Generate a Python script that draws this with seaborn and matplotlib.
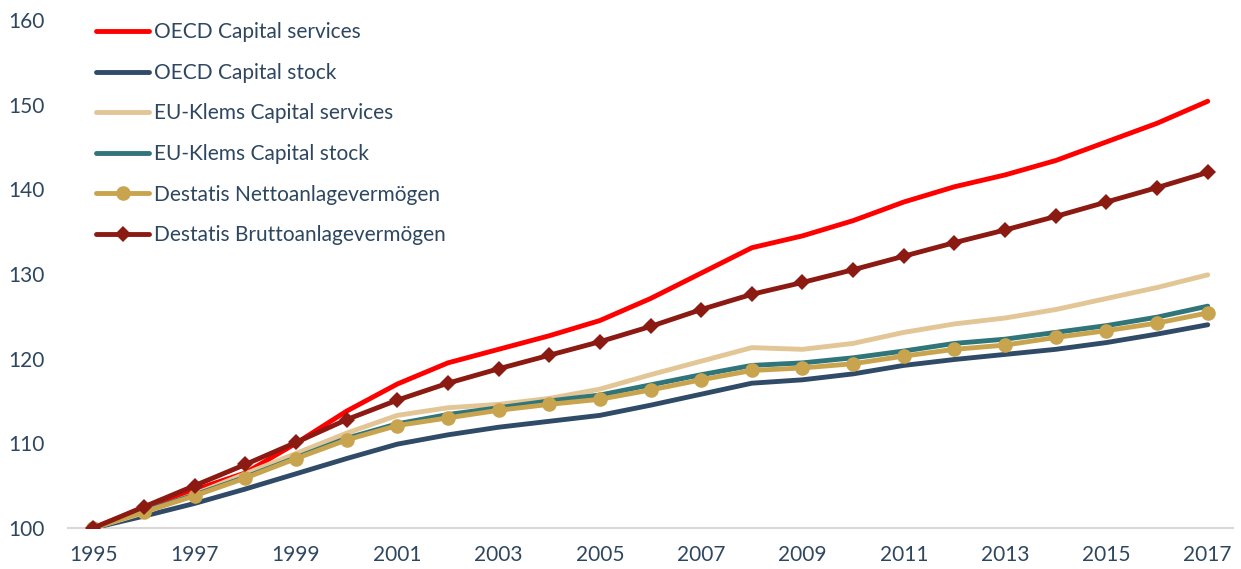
import numpy as np
import pandas as pd
import matplotlib
matplotlib.use("Agg")
import matplotlib.pyplot as plt
import seaborn as sns

# ---------------------------------------------------------------------
# Data (index 1995 = 100)
# ---------------------------------------------------------------------
years = list(range(1995, 2018))

oecd_services = [100.0, 102.4, 104.5, 106.5, 110.0, 113.8, 117.0, 119.5, 121.1, 122.7,
                 124.5, 127.1, 130.1, 133.1, 134.5, 136.3, 138.5, 140.3, 141.7, 143.4,
                 145.6, 147.8, 150.4]
oecd_stock = [100.0, 101.4, 102.9, 104.6, 106.4, 108.2, 109.9, 111.0, 111.9, 112.6,
              113.3, 114.5, 115.8, 117.1, 117.5, 118.2, 119.2, 119.9, 120.5, 121.1,
              121.9, 122.9, 124.0]
klems_services = [100.0, 101.8, 104.0, 106.4, 108.8, 111.2, 113.3, 114.2, 114.6, 115.3,
                  116.4, 118.1, 119.7, 121.3, 121.1, 121.8, 123.1, 124.1, 124.8, 125.8,
                  127.1, 128.4, 129.9]
klems_stock = [100.0, 102.0, 103.9, 106.0, 108.3, 110.6, 112.3, 113.4, 114.2, 115.0,
               115.7, 116.9, 118.1, 119.2, 119.5, 120.1, 120.9, 121.8, 122.3, 123.1,
               123.9, 124.9, 126.2]
destatis_netto = [100.0, 101.9, 103.8, 105.9, 108.2, 110.4, 112.1, 113.0, 113.9, 114.6,
                  115.2, 116.3, 117.5, 118.6, 118.9, 119.4, 120.3, 121.1, 121.6, 122.5,
                  123.3, 124.2, 125.4]
destatis_brutto = [100.0, 102.5, 105.0, 107.5, 110.1, 112.8, 115.1, 117.1, 118.8, 120.4,
                   122.0, 123.8, 125.8, 127.6, 129.0, 130.5, 132.1, 133.7, 135.2, 136.8,
                   138.5, 140.2, 142.0]

labels = ["OECD Capital services", "OECD Capital stock", "EU-Klems Capital services",
          "EU-Klems Capital stock", "Destatis Nettoanlagevermögen",
          "Destatis Bruttoanlagevermögen"]
series = [oecd_services, oecd_stock, klems_services, klems_stock,
          destatis_netto, destatis_brutto]

colors = ["#FF0000", "#2F4B68", "#E2C696", "#2F7579", "#C9A44E", "#8B1A12"]
markers = [None, None, None, None, "o", "D"]
marker_sizes = [0, 0, 0, 0, 10.5, 8]

text_color = "#2E4760"

# ---------------------------------------------------------------------
# Plot
# ---------------------------------------------------------------------
sns.set_theme(style="white")
plt.rcParams["font.family"] = ["Lato", "DejaVu Sans"]

fig = plt.figure(figsize=(12.41, 5.69), dpi=100)
ax = fig.add_axes([0.0548, 0.0721, 0.9388, 0.8928])

for lab, vals, col, mk, ms in zip(labels, series, colors, markers, marker_sizes):
    sns.lineplot(x=years, y=vals, ax=ax, color=col, linewidth=3.5, label=lab,
                 marker=mk, markersize=ms, markeredgewidth=0,
                 solid_capstyle="round", solid_joinstyle="round")

ax.set_xlim(1994.5, 2017.5)
ax.set_ylim(100, 160)
ax.set_xticks(range(1995, 2018, 2))
ax.set_yticks(range(100, 161, 10))
ax.tick_params(axis="both", colors=text_color, labelsize=15, length=0)
ax.tick_params(axis="y", pad=17)
ax.tick_params(axis="x", pad=12)

for side in ["top", "right", "left"]:
    ax.spines[side].set_visible(False)
ax.spines["bottom"].set_color("#D9D9D9")
ax.spines["bottom"].set_linewidth(1.5)
ax.spines["bottom"].set_zorder(0)

leg = ax.legend(loc="upper left", bbox_to_anchor=(0.017, 1.012), frameon=False,
                fontsize=15, labelspacing=0.99, handlelength=2.55, handletextpad=0.22,
                borderaxespad=0)
for t in leg.get_texts():
    t.set_color(text_color)

fig.savefig("out.png", dpi=100)
